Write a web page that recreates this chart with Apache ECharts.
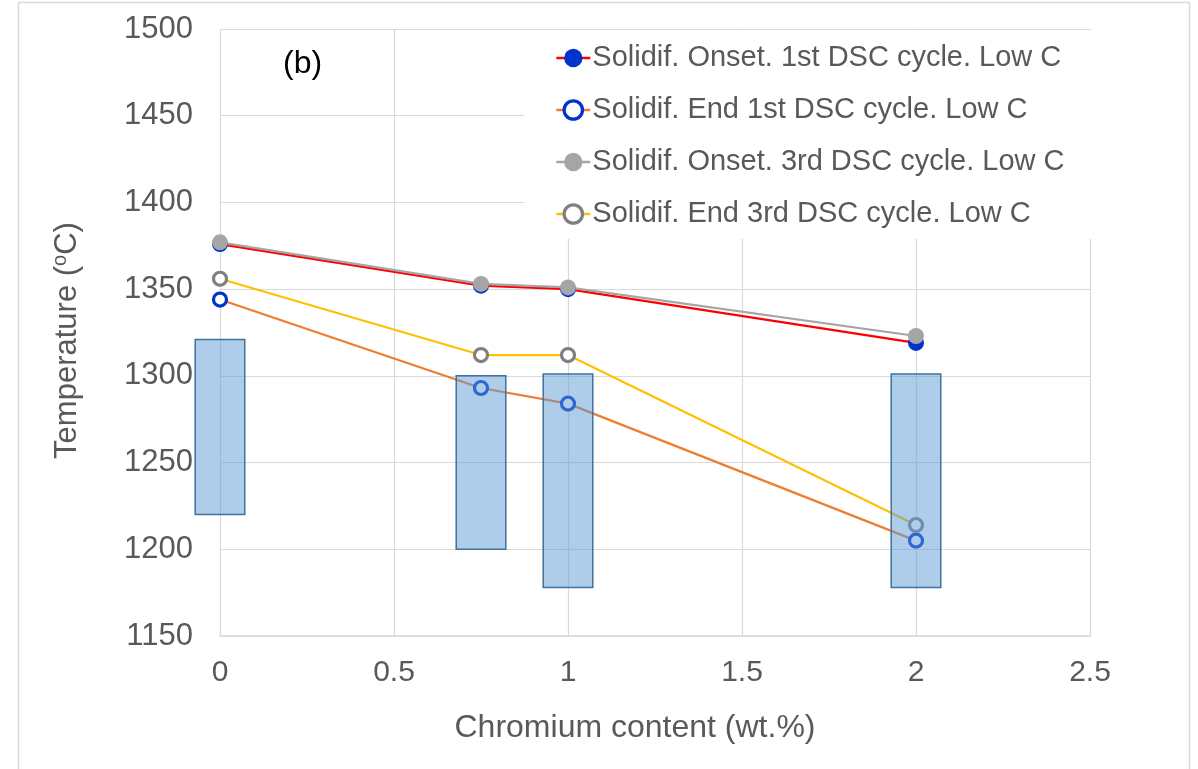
<!DOCTYPE html>
<html>
<head>
<meta charset="utf-8">
<title>Solidification temperatures vs chromium content</title>
<script src="https://cdn.jsdelivr.net/npm/echarts@6/dist/echarts.min.js"></script>
<style>
  html, body { margin: 0; padding: 0; background: #ffffff; }
  #chart { width: 1198px; height: 769px; }
</style>
</head>
<body>
<div id="chart"></div>
<script>
// Chromium content (wt.%) of the alloys
const chromium = [0, 0.75, 1, 2];

// DSC solidification temperatures (°C), low-carbon alloys
const onset1st = [1376, 1352, 1350, 1319];
const end1st   = [1344, 1293, 1284, 1205];
const onset3rd = [1377, 1353, 1351, 1323];
const end3rd   = [1356, 1312, 1312, 1214];

// Solidification ranges shown as floating boxes (low / high, °C)
const rangeLow  = [1220, 1200, 1178, 1178];
const rangeHigh = [1321, 1300, 1301, 1301];

const seriesNames = [
  'Solidif. Onset. 1st DSC cycle. Low C',
  'Solidif. End 1st DSC cycle. Low C',
  'Solidif. Onset. 3rd DSC cycle. Low C',
  'Solidif. End 3rd DSC cycle. Low C'
];
const hollowMarker = [false, true, false, true];

const xTicks = { min: 0, max: 2.5, step: 0.5 };
const yTicks = { min: 1150, max: 1500, step: 50 };

const FONT = '"Liberation Sans", Arial, sans-serif';
const TXT = '#595959';
const GRID = '#d9d9d9';

const pair = (xs, ys) => xs.map((x, i) => [x, ys[i]]);

const chart = echarts.init(document.getElementById('chart'), null, { renderer: 'canvas' });

// filled marker: solid disc; hollow marker: white disc with a thick coloured ring
function lineSeries(name, ys, lineColor, symColor, hollow) {
  return {
    name: name,
    type: 'line',
    data: pair(chromium, ys),
    symbol: 'circle',
    symbolSize: hollow ? 13 : 16,
    showAllSymbol: true,
    z: 2,
    lineStyle: { color: lineColor, width: 2.2 },
    itemStyle: hollow
      ? { color: '#ffffff', borderColor: symColor, borderWidth: 3.2 }
      : { color: symColor, borderWidth: 0 },
    emphasis: { disabled: true },
    animation: false
  };
}

const option = {
  animation: false,
  backgroundColor: '#ffffff',
  textStyle: { fontFamily: FONT },
  graphic: [
    {
      type: 'rect',
      shape: { x: 18.5, y: 2.5, width: 1171, height: 790 },
      style: { fill: 'none', stroke: GRID, lineWidth: 1.5 },
      silent: true, z: -10
    },
    {
      type: 'text',
      left: 283, top: 48,
      style: { text: '(b)', font: '32px ' + FONT, fill: '#000000' },
      silent: true
    }
  ],
  grid: { left: 220, top: 29, right: 108, bottom: 133, containLabel: false },
  legend: {
    orient: 'vertical',
    left: 524,
    top: 30,
    data: seriesNames.map((n, i) => hollowMarker[i]
      ? { name: n, itemStyle: { borderWidth: 3.2 } }
      : { name: n, itemStyle: { borderWidth: 0 } }),
    backgroundColor: '#ffffff',
    padding: [13, 40, 10, 31],
    itemWidth: 34,
    itemHeight: 23,
    itemGap: 22,
    selectedMode: false,
    lineStyle: { width: 2.6 },
    textStyle: { fontSize: 29, color: TXT, fontFamily: FONT, lineHeight: 30, padding: [0, 0, 0, -3] }
  },
  xAxis: {
    type: 'value',
    min: xTicks.min, max: xTicks.max, interval: xTicks.step,
    name: 'Chromium content (wt.%)',
    nameLocation: 'middle',
    nameGap: 76,
    nameTextStyle: { fontSize: 32, color: TXT, fontFamily: FONT, padding: [0, 40, 0, 0] },
    axisLine: { show: true, lineStyle: { color: GRID, width: 1.5 } },
    axisTick: { show: false },
    axisLabel: { fontSize: 30, color: TXT, margin: 22, fontFamily: FONT },
    splitLine: { show: true, lineStyle: { color: GRID, width: 1.2 } }
  },
  yAxis: {
    type: 'value',
    min: yTicks.min, max: yTicks.max, interval: yTicks.step,
    name: '{a|Temperature (}{s|o}{a|C)}',
    nameLocation: 'middle',
    nameGap: 136,
    nameRotate: 90,
    nameTextStyle: {
      color: TXT,
      padding: [0, 16, 0, 0],
      rich: {
        a: { fontSize: 31, color: TXT, fontFamily: FONT, lineHeight: 34 },
        s: { fontSize: 20, color: TXT, fontFamily: FONT, verticalAlign: 'top', lineHeight: 34 }
      }
    },
    axisLine: { show: false },
    axisTick: { show: false },
    axisLabel: {
      fontSize: 31, color: TXT, margin: 27, fontFamily: FONT,
      formatter: (v) => String(v)
    },
    splitLine: { show: true, lineStyle: { color: GRID, width: 1.2 } }
  },
  series: [
    lineSeries(seriesNames[0], onset1st, '#ff0000', '#0033cc', hollowMarker[0]),
    lineSeries(seriesNames[1], end1st, '#ed7d31', '#0033cc', hollowMarker[1]),
    lineSeries(seriesNames[2], onset3rd, '#a5a5a5', '#a5a5a5', hollowMarker[2]),
    lineSeries(seriesNames[3], end3rd, '#ffc000', '#808080', hollowMarker[3]),
    {
      name: 'Solidification range',
      type: 'custom',
      z: 5,
      silent: true,
      data: chromium.map((x, i) => [x, rangeLow[i], rangeHigh[i]]),
      encode: { x: 0, y: [1, 2] },
      renderItem: function (params, api) {
        const lo = api.coord([api.value(0), api.value(1)]);
        const hi = api.coord([api.value(0), api.value(2)]);
        const w = api.size([0.1424, 0])[0];
        return {
          type: 'rect',
          shape: { x: lo[0] - w / 2, y: hi[1], width: w, height: lo[1] - hi[1] },
          style: { fill: 'rgba(91,155,213,0.5)', stroke: '#41719c', lineWidth: 1.5 }
        };
      }
    }
  ]
};

chart.setOption(option);
</script>
</body>
</html>
